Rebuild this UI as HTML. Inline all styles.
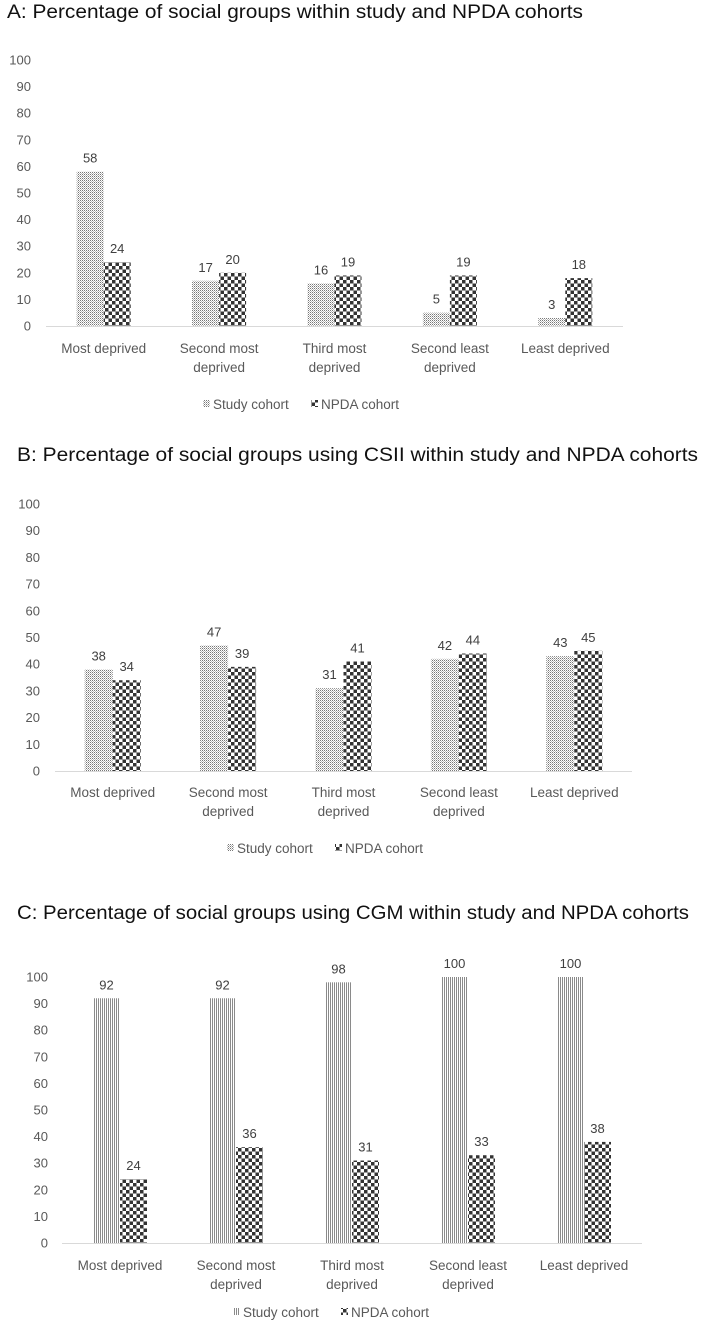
<!DOCTYPE html>
<html><head><meta charset="utf-8"><style>
html,body{margin:0;padding:0;background:#fff;}
svg{display:block;font-family:"Liberation Sans",sans-serif;}
</style></head><body>
<svg id="s" width="708" height="1339" viewBox="0 0 708 1339">
<defs>
<pattern id="dots" width="2" height="2" patternUnits="userSpaceOnUse"><rect width="2" height="2" fill="#fff"/><rect width="1" height="1" fill="#777"/><rect x="1" y="1" width="1" height="1" fill="#bbb"/></pattern>
<pattern id="vlines" width="2" height="2" patternUnits="userSpaceOnUse"><rect width="2" height="2" fill="#fff"/><rect width="1" height="2" fill="#8a8a8a"/></pattern>
<pattern id="check" width="7" height="7" patternUnits="userSpaceOnUse"><rect width="7" height="7" fill="#fff"/><rect width="3.5" height="3.5" fill="#333"/><rect x="3.5" y="3.5" width="3.5" height="3.5" fill="#333"/></pattern>
</defs>
</svg>
<script>
const categories = [["Most deprived"],["Second most","deprived"],["Third most","deprived"],["Second least","deprived"],["Least deprived"]];
const yTicks = [0,10,20,30,40,50,60,70,80,90,100];
const studyA = [58,17,16,5,3];
const npdaA = [24,20,19,19,18];
const studyB = [38,47,31,42,43];
const npdaB = [34,39,41,44,45];
const studyC = [92,92,98,100,100];
const npdaC = [24,36,31,33,38];

const NS="http://www.w3.org/2000/svg";
const svg=document.getElementById('s');
function mk(tag,attrs,parent){const e=document.createElementNS(NS,tag);for(const k in attrs)e.setAttribute(k,attrs[k]);(parent||svg).appendChild(e);return e;}

const panels=[
 {id:'a',title:"A: Percentage of social groups within study and NPDA cohorts",tx:7,ty:18,tl:576,x0:46,x1:623,y0:326,y100:60,tickX:31,lab1:353,lab2:372,leg:409,legX:213,study:studyA,npda:npdaA,sp:'dots',bw:27},
 {id:'b',title:"B: Percentage of social groups using CSII within study and NPDA cohorts",tx:17,ty:461,tl:681,x0:55,x1:632,y0:771,y100:504,tickX:40,lab1:797,lab2:816,leg:853,legX:237,study:studyB,npda:npdaB,sp:'dots',bw:28},
 {id:'c',title:"C: Percentage of social groups using CGM within study and NPDA cohorts",tx:17,ty:919,tl:672,x0:62,x1:642,y0:1243,y100:977,tickX:48,lab1:1270,lab2:1289,leg:1317,legX:243,study:studyC,npda:npdaC,sp:'vlines',bw:27}
];

panels.forEach(p=>{
  const g=mk('g',{});
  
  
  const t=mk('text',{x:p.tx,y:p.ty,'font-size':19,fill:'#111',textLength:p.tl,lengthAdjust:'spacingAndGlyphs'},g);
  t.textContent=p.title;
  
  
  const y=v=>p.y0-(p.y0-p.y100)*v/100;
  yTicks.forEach(v=>{
    const tk=mk('text',{x:p.tickX,y:y(v)+4.5,'font-size':13,fill:'#595959','text-anchor':'end'},g);
    tk.textContent=v;
    
    
  });
  const ax=mk('line',{x1:p.x0,x2:p.x1,y1:p.y0+0.5,y2:p.y0+0.5,stroke:'#d9d9d9','stroke-width':1},g);
  
  
  const gw=(p.x1-p.x0)/categories.length;
  categories.forEach((c,i)=>{
    const cx=p.x0+gw*(i+0.5);
    const sv=p.study[i], nv=p.npda[i];
    const b1=mk('rect',{x:cx-p.bw,y:y(sv),width:p.bw,height:p.y0-y(sv),fill:'url(#'+p.sp+')'},g);
    
    
    const b2=mk('rect',{x:cx,y:y(nv),width:p.bw,height:p.y0-y(nv),fill:'url(#check)'},g);
    
    
    const l1=mk('text',{x:cx-p.bw/2,y:y(sv)-9,'font-size':13,fill:'#404040','text-anchor':'middle'},g);
    l1.textContent=sv;
    
    
    const l2=mk('text',{x:cx+p.bw/2,y:y(nv)-9,'font-size':13,fill:'#404040','text-anchor':'middle'},g);
    l2.textContent=nv;
    
    
    c.forEach((line,k)=>{
      const cl=mk('text',{x:cx,y:(k?p.lab2:p.lab1),'font-size':13.5,fill:'#595959','text-anchor':'middle'},g);
      cl.textContent=line;
      
      
    });
  });
  const lg=mk('g',{},g);
  
  
  mk('rect',{x:p.legX-10,y:p.leg-9,width:7,height:7,fill:'url(#'+p.sp+')'},lg);
  const lt1=mk('text',{x:p.legX,y:p.leg,'font-size':13.5,fill:'#595959'},lg);
  lt1.textContent='Study cohort';
  
  
  mk('rect',{x:p.legX+98,y:p.leg-9,width:7,height:7,fill:'url(#check)'},lg);
  const lt2=mk('text',{x:p.legX+108,y:p.leg,'font-size':13.5,fill:'#595959'},lg);
  lt2.textContent='NPDA cohort';
  
  
});
</script>
</body></html>
